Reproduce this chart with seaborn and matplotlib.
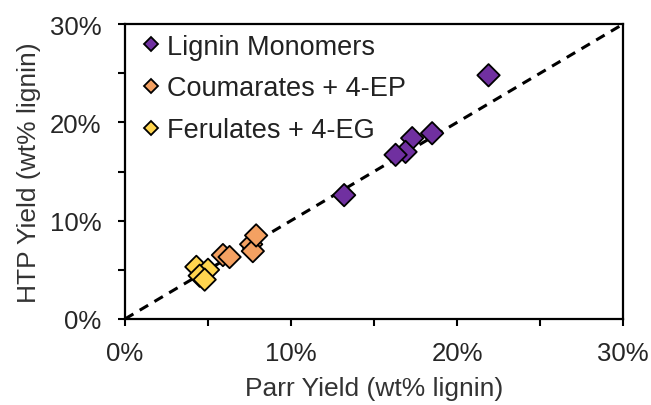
import matplotlib
matplotlib.use("Agg")
import matplotlib.pyplot as plt
from matplotlib.ticker import MultipleLocator, FuncFormatter
import seaborn as sns
import pandas as pd

# Yields in wt% of lignin: Parr reactor (x) vs high-throughput (y)
monomer_parr = [21.9, 18.5, 17.3, 16.9, 16.3, 13.2]
monomer_htp = [24.8, 18.9, 18.4, 17.0, 16.7, 12.6]
coumarate_parr = [5.9, 6.3, 7.6, 7.7, 7.9]
coumarate_htp = [6.5, 6.3, 7.6, 6.9, 8.5]
ferulate_parr = [4.3, 5.0, 4.5, 4.8]
ferulate_htp = [5.3, 5.0, 4.4, 4.0]

groups = ["Lignin Monomers", "Coumarates + 4-EP", "Ferulates + 4-EG"]
colors = ["#7030A0", "#F4A162", "#FFD54F"]

df = pd.DataFrame({
    "parr": monomer_parr + coumarate_parr + ferulate_parr,
    "htp": monomer_htp + coumarate_htp + ferulate_htp,
    "group": [groups[0]] * len(monomer_parr)
    + [groups[1]] * len(coumarate_parr)
    + [groups[2]] * len(ferulate_parr),
})

sns.set_style("ticks")
plt.rcParams["font.family"] = ["Liberation Sans", "DejaVu Sans"]

fig = plt.figure(figsize=(6.51, 4.06), dpi=100)
ax = fig.add_axes([0.192, 0.212, 0.765, 0.726])

# parity line
ax.plot([0, 30], [0, 30], color="black", lw=2.2, ls=(0, (3.2, 2.4)), zorder=1)

sns.scatterplot(data=df, x="parr", y="htp", hue="group", hue_order=groups,
                palette=colors, marker="D", s=130, edgecolor="black",
                linewidth=1.3, ax=ax, zorder=3)

ax.set_xlim(0, 30)
ax.set_ylim(0, 30)
ax.xaxis.set_major_locator(MultipleLocator(10))
ax.yaxis.set_major_locator(MultipleLocator(10))
ax.xaxis.set_minor_locator(MultipleLocator(5))
ax.yaxis.set_minor_locator(MultipleLocator(5))
pct = FuncFormatter(lambda v, p: f"{v:.0f}%")
ax.xaxis.set_major_formatter(pct)
ax.yaxis.set_major_formatter(pct)
ax.tick_params(which="both", direction="out", length=5, width=1.5,
               color="black", labelsize=18.5, labelcolor="#262626")
ax.tick_params(axis="x", pad=11)
ax.tick_params(axis="y", pad=12)

for sp in ax.spines.values():
    sp.set_visible(True)
    sp.set_linewidth(1.6)
    sp.set_color("black")

ax.set_xlabel("Parr Yield (wt% lignin)", fontsize=19, color="#333333", labelpad=8)
ax.set_ylabel("HTP Yield (wt% lignin)", fontsize=19, color="#333333", labelpad=6)

handles, labels = ax.get_legend_handles_labels()
ax.legend(handles, labels, loc="upper left", frameon=False, fontsize=19.5,
          markerscale=0.65, handletextpad=0.0, labelspacing=0.58,
          borderaxespad=0.1, handlelength=1.2, borderpad=0.25,
          labelcolor="#222222")

fig.savefig("out.png", dpi=100)
